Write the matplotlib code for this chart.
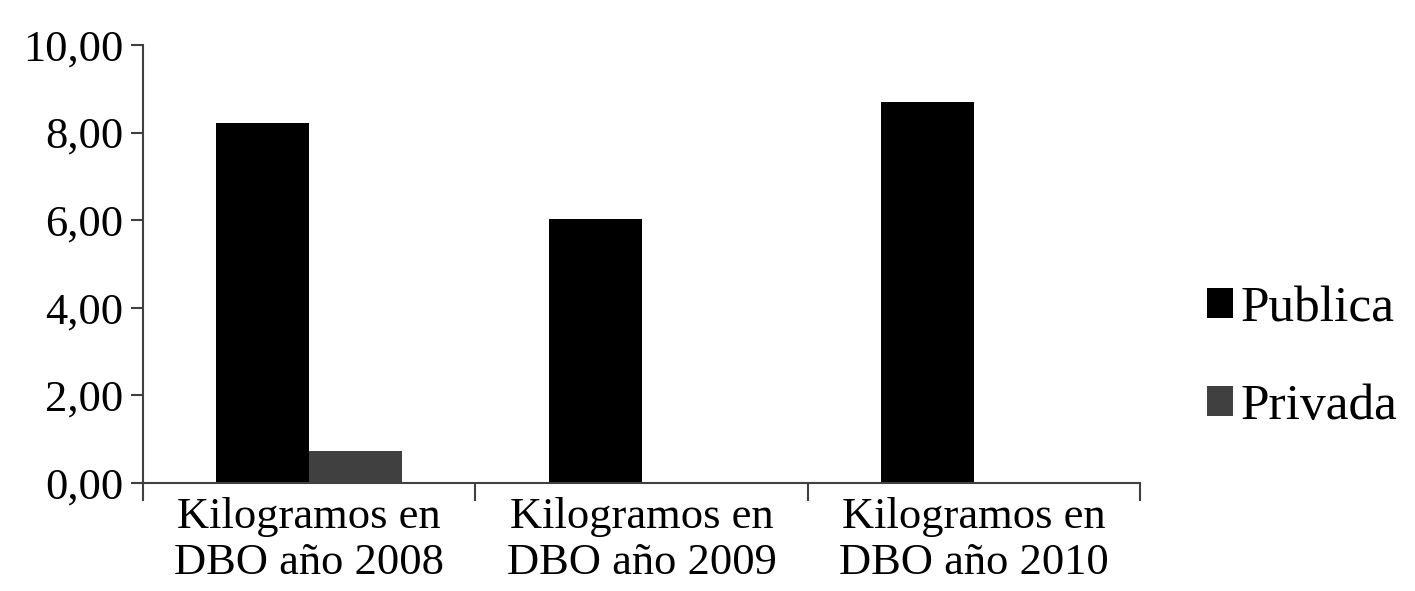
import numpy as np
import matplotlib
matplotlib.use('Agg')
import matplotlib.pyplot as plt
from matplotlib.ticker import FuncFormatter

# data
categories = ['Kilogramos en\nDBO año 2008', 'Kilogramos en\nDBO año 2009', 'Kilogramos en\nDBO año 2010']
publica = [8.22, 6.02, 8.70]
privada = [0.72, 0.0, 0.0]
series_names = ['Publica', 'Privada']
colors = ['#000000', '#404040']

plt.rcParams['font.family'] = ['Liberation Serif', 'DejaVu Serif']

fig = plt.figure(figsize=(14.15, 5.91), dpi=100)
ax = fig.add_axes([0.101, 0.183, 0.705, 0.741])

x = np.arange(len(categories))
w = 0.28
b1 = ax.bar(x - w / 2, publica, w, color=colors[0], label=series_names[0])
b2 = ax.bar(x + w / 2, privada, w, color=colors[1], label=series_names[1])

ax.set_xlim(-0.5, len(categories) - 0.5)
ax.set_ylim(0, 10)
ax.set_yticks(np.arange(0, 10.01, 2))
ax.yaxis.set_major_formatter(FuncFormatter(lambda v, p: f'{v:.2f}'.replace('.', ',')))

# labels under the groups, ticks between the groups
ax.set_xticks(x)
ax.set_xticklabels(categories, fontsize=32, linespacing=1.2)
ax.set_xticks(np.arange(-0.5, len(categories), 1), minor=True)
ax.tick_params(axis='x', which='major', length=0, pad=10)
ax.tick_params(axis='x', which='minor', length=13, width=1.5, color='#404040', direction='out')
ax.tick_params(axis='y', labelsize=32, length=9, width=1.5, color='#404040', pad=5)

for s in ['top', 'right']:
    ax.spines[s].set_visible(False)
for s in ['left', 'bottom']:
    ax.spines[s].set_color('#404040')
    ax.spines[s].set_linewidth(1.5)

ax.legend(handles=[b1, b2], loc='center left', bbox_to_anchor=(1.046, 0.285),
          frameon=False, fontsize=37, handlelength=0.5, handleheight=0.5,
          handletextpad=0.15, labelspacing=1.0, borderaxespad=0)

fig.savefig('out.png', dpi=100, facecolor='white')
